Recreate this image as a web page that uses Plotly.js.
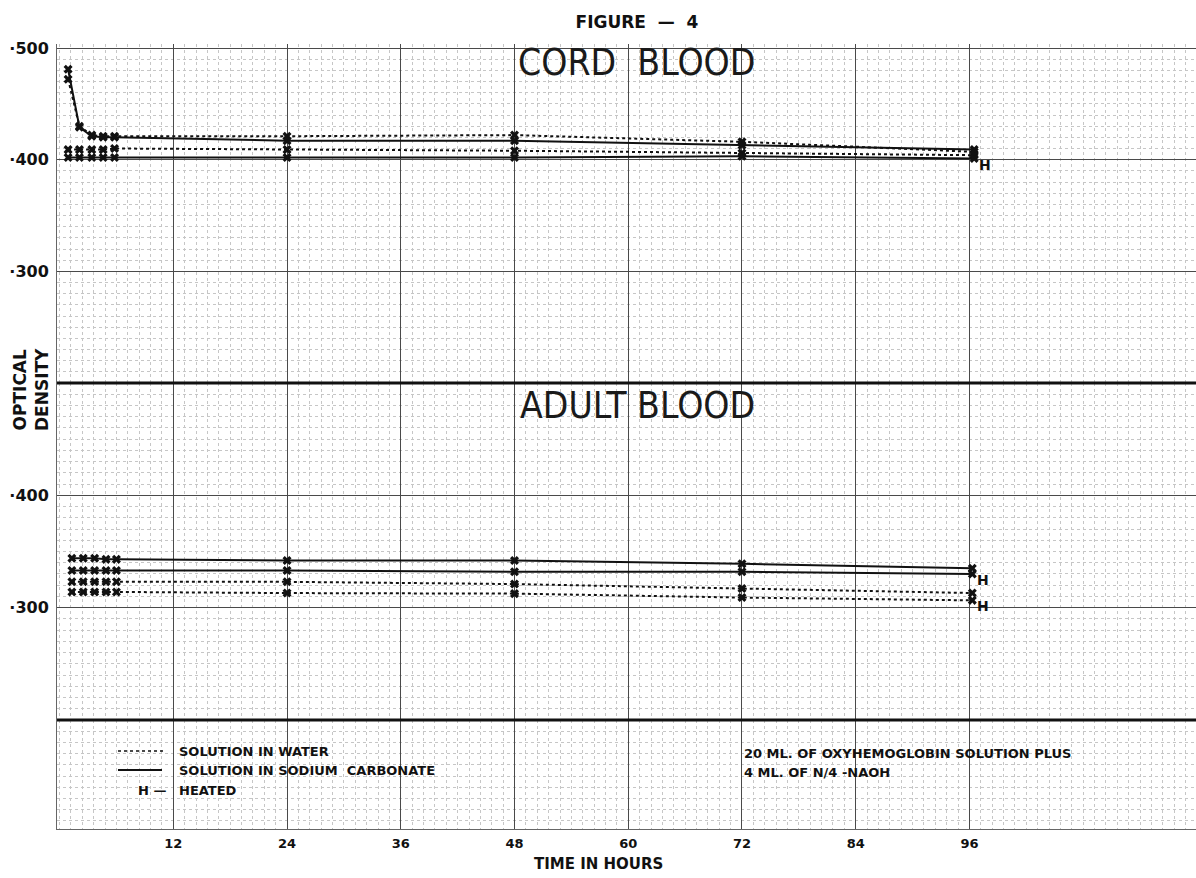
<!DOCTYPE html>
<html>
<head>
<meta charset="utf-8">
<script src="https://cdn.plot.ly/plotly-3.0.1.min.js"></script>
<style>html,body{margin:0;padding:0;background:#fff;}#chart{width:1196px;height:878px;}</style>
</head>
<body>
<div id="chart"></div>
<script>
// ---- data (optical density in thousandths, time in hours) ----
var cordHours = [0.9, 2.1, 3.4, 4.6, 5.8, 24, 48, 72, 96.5];
var cordCarbonateA = [481, 429, 421, 420, 420, 417, 417, 413, 409];
var cordWaterA     = [472, 430, 422, 421, 421, 421, 422, 416, 407];
var cordWaterB     = [409, 409, 409, 409, 410, 409, 408, 406, 404];
var cordCarbonateB = [402, 402, 402, 402, 402, 402, 402, 403, 401];

var adultHours = [1.3, 2.5, 3.7, 4.9, 6.0, 24, 48, 72, 96.3];
var adultCarbonateA = [344, 344, 344, 343, 343, 342, 342, 339, 335];
var adultCarbonateB = [333, 333, 333, 333, 333, 333, 332, 332, 330];
var adultWaterA     = [323, 323, 323, 323, 323, 323, 321, 317, 313];
var adultWaterB     = [314, 314, 314, 314, 314, 313, 312.5, 309, 306.5];

var xTickVals = [12, 24, 36, 48, 60, 72, 84, 96];
var xTickText = ['12', '24', '36', '48', '60', '72', '84', '96'];
var cordTickVals = [300, 400, 500];
var cordTickText = ['·300', '·400', '·500'];
var adultTickVals = [300, 400];
var adultTickText = ['·300', '·400'];

// ---- styling ----
var FONT = 'DejaVu Sans, Verdana, sans-serif';
var mk = {symbol: 'x', size: 8, color: '#111'};
function series(x, y, yax, dash) {
  return {x: x, y: y, yaxis: yax, xaxis: 'x', type: 'scatter', mode: 'lines+markers',
          line: {color: '#111', width: 2, dash: dash}, marker: mk, showlegend: false, hoverinfo: 'skip'};
}
var traces = [
  series(cordHours, cordCarbonateA, 'y', 'solid'),
  series(cordHours, cordWaterA, 'y', 'dot'),
  series(cordHours, cordWaterB, 'y', 'dot'),
  series(cordHours, cordCarbonateB, 'y', 'solid'),
  series(adultHours, adultCarbonateA, 'y2', 'solid'),
  series(adultHours, adultCarbonateB, 'y2', 'solid'),
  series(adultHours, adultWaterA, 'y2', 'dot'),
  series(adultHours, adultWaterB, 'y2', 'dot'),
  {x: [], y: [], xaxis: 'x', yaxis: 'y3', type: 'scatter', mode: 'lines', showlegend: false}
];

var L = 57, R = 1196, T = 44, B = 829;
var W = R - L, H = B - T;
function px(x) { return (x - L) / W; }
function py(y) { return (B - y) / H; }

var minorGrid = {showgrid: true, gridcolor: '#c6c6c6', griddash: 'dot', gridwidth: 1};
function yAxis(domain, range, tv, tt) {
  return {
    domain: domain, range: range, anchor: 'x', fixedrange: true,
    tickmode: 'array', tickvals: tv || [], ticktext: tt || [],
    showticklabels: !!tv, ticks: '', ticklabelstandoff: 4,
    tickfont: {family: FONT, size: 16, color: '#111', weight: 'bold'},
    showgrid: true, gridcolor: '#4a4a4a', gridwidth: 1,
    minor: Object.assign({dtick: 10, tick0: 0}, minorGrid),
    showline: true, linecolor: '#666', linewidth: 1, zeroline: false
  };
}

var cordTop = 200 + (383 - T) / (335 / 300);
var legendBottom = 200 - (B - 720) / 1.12;

var hLabel = function (x, y, yref) {
  return {x: x, y: y, xref: 'x', yref: yref, text: 'H', showarrow: false,
          xanchor: 'left', yanchor: 'middle', xshift: 3, yshift: -6,
          font: {family: FONT, size: 14, color: '#111', weight: 'bold'}};
};
var last = function (a) { return a[a.length - 1]; };

var textFont = {family: FONT, size: 13, color: '#111', weight: 'bold'};
var layout = {
  width: 1196, height: 878,
  margin: {l: L, r: 1196 - R, t: T, b: 878 - B},
  paper_bgcolor: '#fff', plot_bgcolor: '#fff',
  title: {text: 'FIGURE  —  4', x: 637 / 1196, xref: 'container', y: 1 - 22 / 878, yref: 'container',
          xanchor: 'center', yanchor: 'middle', font: {family: FONT, size: 17, color: '#111', weight: 'bold'}},
  xaxis: {
    range: [-0.27, 119.9], anchor: 'y3', fixedrange: true,
    tickmode: 'array', tickvals: xTickVals, ticktext: xTickText,
    ticks: '', ticklabelstandoff: 2,
    tickfont: {family: FONT, size: 13, color: '#111', weight: 'bold'},
    showgrid: true, gridcolor: '#4a4a4a', gridwidth: 1,
    minor: Object.assign({dtick: 1.2, tick0: 0}, minorGrid),
    showline: true, mirror: true, linecolor: '#666', linewidth: 1, zeroline: false
  },
  yaxis: yAxis([py(383), 1], [200, cordTop], cordTickVals, cordTickText),
  yaxis2: yAxis([py(720), py(383)], [200, 500], adultTickVals, adultTickText),
  yaxis3: yAxis([0, py(720)], [legendBottom, 200]),
  shapes: [
    {type: 'line', xref: 'paper', yref: 'paper', x0: 0, x1: 1, y0: py(383), y1: py(383), line: {color: '#111', width: 3}},
    {type: 'line', xref: 'paper', yref: 'paper', x0: 0, x1: 1, y0: py(720), y1: py(720), line: {color: '#111', width: 3}},
    {type: 'line', xref: 'paper', yref: 'paper', x0: px(118), x1: px(165), y0: py(751), y1: py(751), line: {color: '#111', width: 1.5, dash: 'dot'}},
    {type: 'line', xref: 'paper', yref: 'paper', x0: px(118), x1: px(162), y0: py(770), y1: py(770), line: {color: '#111', width: 2}}
  ],
  annotations: [
    {text: 'CORD  BLOOD', xref: 'paper', yref: 'paper', x: px(636), y: py(62), showarrow: false,
     xanchor: 'center', yanchor: 'middle', font: {family: 'DejaVu Sans Condensed, DejaVu Sans, sans-serif', size: 37, color: '#1a1a1a'}},
    {text: 'ADULT BLOOD', xref: 'paper', yref: 'paper', x: px(637), y: py(405), showarrow: false,
     xanchor: 'center', yanchor: 'middle', font: {family: 'DejaVu Sans Condensed, DejaVu Sans, sans-serif', size: 37, color: '#1a1a1a'}},
    {text: 'OPTICAL<br>DENSITY', xref: 'paper', yref: 'paper', x: px(31), y: py(390), showarrow: false,
     textangle: -90, xanchor: 'center', yanchor: 'middle', font: {family: FONT, size: 17, color: '#111', weight: 'bold'}},
    {text: 'TIME IN HOURS', xref: 'paper', yref: 'paper', x: px(598), y: py(864), showarrow: false,
     xanchor: 'center', yanchor: 'middle', font: {family: FONT, size: 15, color: '#111', weight: 'bold'}},
    {text: 'SOLUTION IN WATER', xref: 'paper', yref: 'paper', x: px(177), y: py(751), showarrow: false,
     xanchor: 'left', yanchor: 'middle', font: textFont},
    {text: 'SOLUTION IN SODIUM  CARBONATE', xref: 'paper', yref: 'paper', x: px(177), y: py(770), showarrow: false,
     xanchor: 'left', yanchor: 'middle', font: textFont},
    {text: 'H —', xref: 'paper', yref: 'paper', x: px(168), y: py(790), showarrow: false,
     xanchor: 'right', yanchor: 'middle', font: textFont},
    {text: 'HEATED', xref: 'paper', yref: 'paper', x: px(177), y: py(790), showarrow: false,
     xanchor: 'left', yanchor: 'middle', font: textFont},
    {text: '20 ML. OF OXYHEMOGLOBIN SOLUTION PLUS', xref: 'paper', yref: 'paper', x: px(742), y: py(753), showarrow: false,
     xanchor: 'left', yanchor: 'middle', font: textFont},
    {text: '4 ML. OF N/4 -NAOH', xref: 'paper', yref: 'paper', x: px(742), y: py(772), showarrow: false,
     xanchor: 'left', yanchor: 'middle', font: textFont},
    hLabel(last(cordHours), last(cordCarbonateB), 'y'),
    hLabel(last(adultHours), last(adultCarbonateB), 'y2'),
    hLabel(last(adultHours), last(adultWaterB), 'y2')
  ]
};

Plotly.newPlot('chart', traces, layout, {staticPlot: true, displayModeBar: false});
</script>
</body>
</html>
